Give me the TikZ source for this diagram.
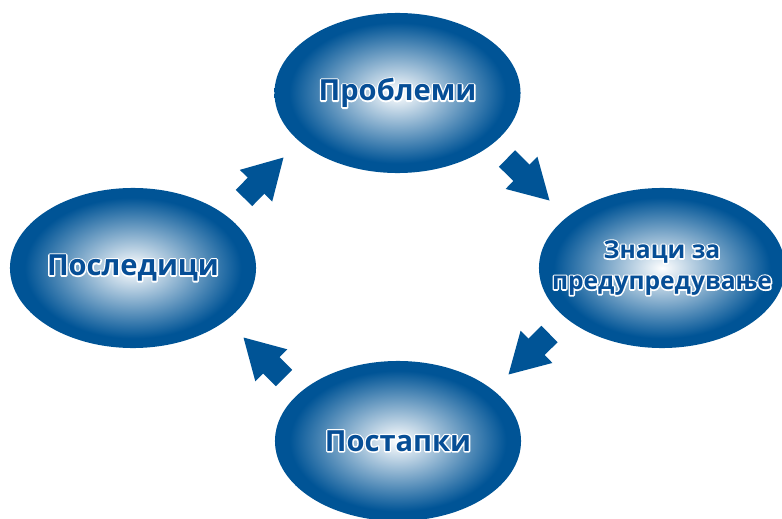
\documentclass[tikz,border=0pt]{standalone}
\usepackage{fontspec}
\setmainfont{Open Sans}
\usetikzlibrary{arrows.meta, shapes.geometric}
\definecolor{tmnosina}{RGB}{0,84,150}
\definecolor{tekstsina}{RGB}{6,78,150}
\pgfdeclareradialshading{sjaj}{\pgfpoint{0bp}{0bp}}{%
    color(0bp)=(white); color(22bp)=(tmnosina); color(25bp)=(tmnosina); color(50bp)=(tmnosina)}
% бел раб околу буквите: прво контура, па полн текст
\newcommand{\natpis}[1]{\makebox[0pt]{\rlap{\special{pdf:literal direct 1 Tr 1 1 1 RG 2 w 1 j}#1\special{pdf:literal direct 0 Tr 0 j}}#1}}
\tikzset{
    oval/.style={ellipse, shading=sjaj, minimum width=6.15cm, minimum height=4cm,
        inner sep=0pt, text=tekstsina, align=center},
    golem/.style={font=\bfseries\fontsize{20.7}{22}\selectfont},
    mal/.style={font=\bfseries\fontsize{17.5}{22}\selectfont},
    strelka/.style={draw=tmnosina, line width=16.4pt, -{Triangle[width=30pt, length=28.5pt]}}
}

\begin{document}
\begin{tikzpicture}[x=0.025cm, y=-0.025cm]
    \useasboundingbox (0,0) rectangle (782,519);
    % четирите елипси
    \node[oval, golem] (problemi) at (397.5,93) {\natpis{Проблеми}};
    \node[oval, mal] (znaci) at (662,268) {\natpis{Знаци за}\\\natpis{предупредување}};
    \node[oval, golem] (postapki) at (398,441) {\natpis{Постапки}};
    \node[oval, golem] (posledici) at (133,268) {\natpis{Последици}};

    % стрелки меѓу нив
    \coordinate (s1) at (507,158.5); \coordinate (v1) at (550,201);
    \coordinate (s2) at (549.5,334); \coordinate (v2) at (508,375);
    \coordinate (s3) at (284,378);   \coordinate (v3) at (243,337);
    \coordinate (s4) at (244,198);   \coordinate (v4) at (284,157);
    \draw[strelka] (s1) -- (v1);
    \draw[strelka] (s2) -- (v2);
    \draw[strelka] (s3) -- (v3);
    \draw[strelka] (s4) -- (v4);
\end{tikzpicture}
\end{document}
